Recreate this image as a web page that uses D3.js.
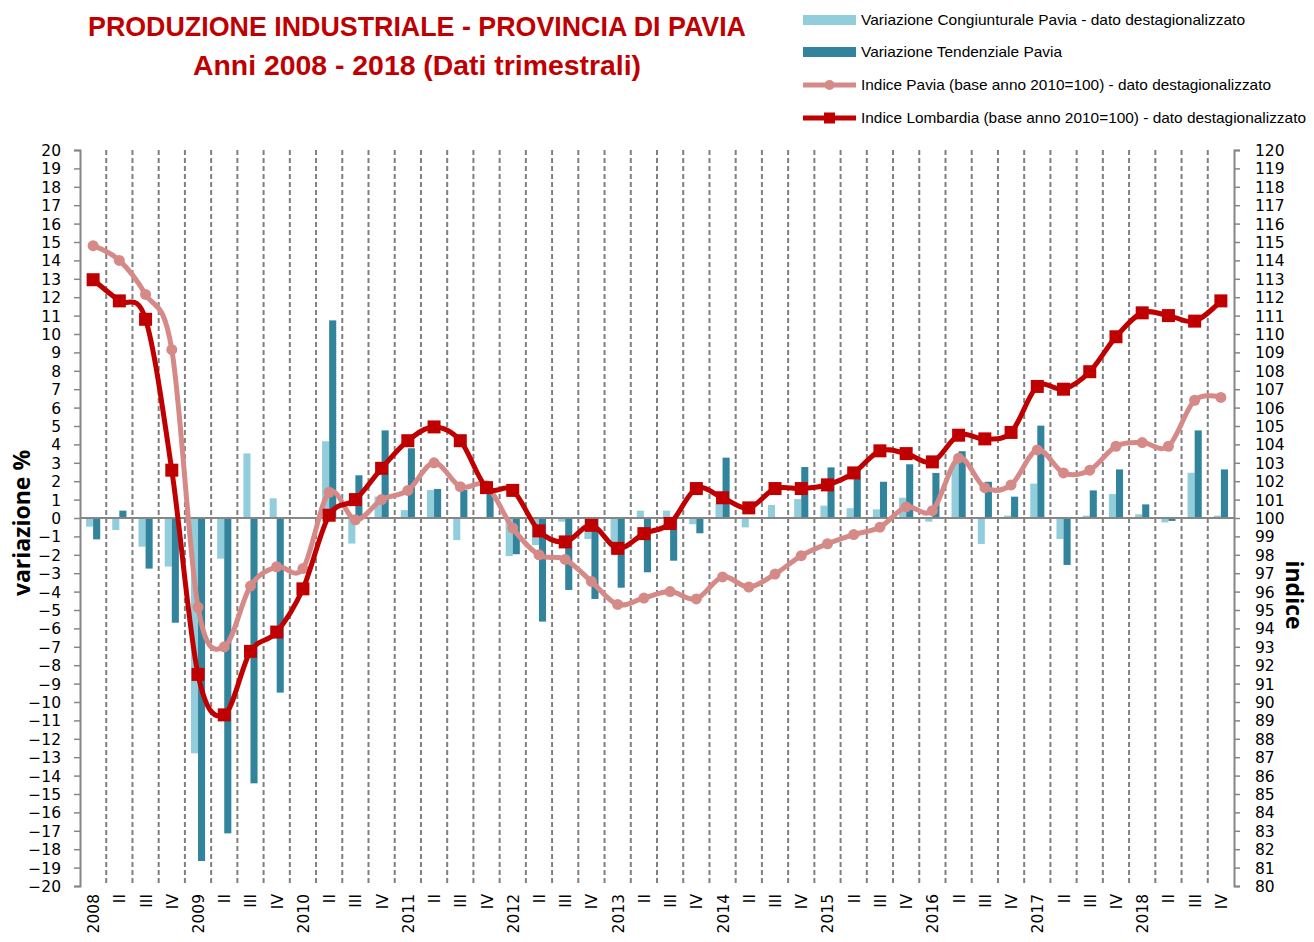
<!DOCTYPE html>
<html lang="it">
<head>
<meta charset="UTF-8">
<title>Produzione industriale - Provincia di Pavia</title>
<script src="https://cdn.jsdelivr.net/npm/d3@7"></script>
<style>
    body { margin: 0; background: #fff; }
    .tick text { font-family: "DejaVu Sans", sans-serif; font-size: 15.5px; fill: #000; }
    .title { font-family: "Liberation Sans Narrow", "Liberation Sans", sans-serif; font-weight: bold; fill: #c00000; font-size: 28px; }
    .legend text { font-family: "Liberation Sans Narrow", "Liberation Sans", sans-serif; font-size: 15px; fill: #000; }
    .axis-title { font-family: "Open Sans", sans-serif; font-weight: bold; font-size: 23px; fill: #000; }
</style>
</head>
<body>
<svg width="1314" height="942"></svg>
<script>
// quarters 2008 - 2018
const years = d3.range(2008, 2019);
const quarterLabels = years.flatMap(y => [String(y), "II", "III", "IV"]);

// variazione % (left axis)
const congiunturale = [-0.47, -0.65, -1.56, -2.64, -12.79, -2.21, 3.51, 1.07, 0, 4.17, -1.39, 1.16,
    0.43, 1.52, -1.2, -0.05, -2.07, -1.47, -0.2, -1.14, -1.92, 0.4, 0.4, -0.34,
    0.8, -0.51, 0.71, 1.03, 0.67, 0.53, 0.47, 1.1, -0.2, 3.0, -1.41, 0.13,
    1.87, -1.14, 0.13, 1.3, 0.2, -0.24, 2.46, 0.13];
const tendenziale = [-1.16, 0.4, -2.75, -5.69, -18.64, -17.14, -14.42, -9.49, -0.05, 10.74, 2.32, 4.76,
    3.79, 1.58, 1.52, 1.6, -1.97, -5.63, -3.91, -4.4, -3.79, -2.95, -2.32, -0.83,
    3.28, 0, 0, 2.77, 2.75, 2.7, 1.97, 2.92, 2.45, 3.63, 1.97, 1.16,
    5.02, -2.55, 1.5, 2.64, 0.74, -0.16, 4.76, 2.64];

// indici (right axis)
const indicePavia = [114.8, 114.0, 112.15, 109.15, 95.15, 93.0, 96.3, 97.35, 97.25, 101.4, 99.9, 101.0,
    101.5, 103.0, 101.7, 101.75, 99.45, 98.0, 97.75, 96.55, 95.3, 95.65, 96.0, 95.6,
    96.8, 96.25, 96.95, 97.95, 98.6, 99.1, 99.5, 100.6, 100.4, 103.25, 101.65, 101.8,
    103.7, 102.45, 102.6, 103.9, 104.1, 103.9, 106.4, 106.55];
const indiceLombardia = [112.95, 111.8, 110.8, 102.6, 91.5, 89.3, 92.75, 93.8, 96.15, 100.15, 101.0, 102.7,
    104.2, 104.95, 104.2, 101.65, 101.5, 99.3, 98.7, 99.6, 98.35, 99.15, 99.7, 101.6,
    101.1, 100.55, 101.6, 101.6, 101.8, 102.45, 103.65, 103.5, 103.05, 104.5, 104.3, 104.65,
    107.15, 107.0, 107.95, 109.85, 111.15, 111.0, 110.7, 111.8];

const legendLabels = [
    "Variazione Congiunturale Pavia - dato destagionalizzato",
    "Variazione Tendenziale Pavia",
    "Indice Pavia (base anno 2010=100) - dato destagionalizzato",
    "Indice Lombardia (base anno 2010=100) - dato destagionalizzato"
];

const C_CONG = "#92cddc", C_TEND = "#31849b", C_PAV = "#d58a88", C_LOM = "#c00000", C_AX = "#868686";

const svg = d3.select("svg");
const mLeft = 80, mRight = 1234, mTop = 150, mBottom = 886;

const idx = d3.range(quarterLabels.length);
const x = d3.scaleBand().domain(idx).range([mLeft, mRight]);
const xSub = d3.scaleBand().domain(["c", "t"]).range([x.bandwidth() * 0.23, x.bandwidth() * 0.77]);
const yL = d3.scaleLinear().domain([-20, 20]).range([mBottom, mTop]);
const yR = d3.scaleLinear().domain([80, 120]).range([mBottom, mTop]);

// dashed gridlines at category boundaries
svg.append("g").selectAll("line")
    .data(idx.slice(1))
    .join("line")
    .attr("x1", d => x(d)).attr("x2", d => x(d))
    .attr("y1", mTop).attr("y2", mBottom)
    .attr("stroke", "#808080").attr("stroke-width", 2)
    .attr("stroke-dasharray", "5,3");

// bars
const bars = svg.append("g");
bars.selectAll(".cong").data(idx).join("rect")
    .attr("class", "cong")
    .attr("x", i => x(i) + xSub("c"))
    .attr("width", xSub.bandwidth())
    .attr("y", i => yL(Math.max(0, congiunturale[i])))
    .attr("height", i => Math.abs(yL(congiunturale[i]) - yL(0)))
    .attr("fill", C_CONG);
bars.selectAll(".tend").data(idx).join("rect")
    .attr("class", "tend")
    .attr("x", i => x(i) + xSub("t"))
    .attr("width", xSub.bandwidth())
    .attr("y", i => yL(Math.max(0, tendenziale[i])))
    .attr("height", i => Math.abs(yL(tendenziale[i]) - yL(0)))
    .attr("fill", C_TEND);

// zero line
svg.append("line")
    .attr("x1", mLeft).attr("x2", mRight)
    .attr("y1", yL(0)).attr("y2", yL(0))
    .attr("stroke", C_AX).attr("stroke-width", 2);

// axes
const axL = svg.append("g").attr("transform", `translate(${mLeft},0)`)
    .call(d3.axisLeft(yL).tickValues(d3.range(-20, 21)).tickSize(6).tickPadding(13).tickFormat(d3.format("d")));
const axR = svg.append("g").attr("transform", `translate(${mRight},0)`)
    .call(d3.axisRight(yR).tickValues(d3.range(80, 121)).tickSize(6).tickPadding(15).tickFormat(d3.format("d")));
[axL, axR].forEach(a => {
    a.select(".domain").attr("stroke", C_AX).attr("stroke-width", 2);
    a.selectAll(".tick line").attr("stroke", C_AX).attr("stroke-width", 1.5);
    a.selectAll(".tick text").attr("dy", "0.36em");
});

// category labels (rotated)
svg.append("g").selectAll("text")
    .data(idx)
    .join("text")
    .attr("transform", i => `translate(${x(i) + x.bandwidth() / 2 + 6},894) rotate(-90)`)
    .attr("text-anchor", "end")
    .style("font-family", "'DejaVu Sans', sans-serif")
    .style("font-size", "15.5px")
    .text(i => quarterLabels[i]);

// lines
const line = vals => d3.line()
    .x(i => x(i) + x.bandwidth() / 2)
    .y(i => yR(vals[i]))
    .curve(d3.curveCatmullRom.alpha(0))(idx);

svg.append("path").attr("d", line(indicePavia))
    .attr("fill", "none").attr("stroke", C_PAV).attr("stroke-width", 5).attr("stroke-linejoin", "round");
svg.append("g").selectAll("circle").data(idx).join("circle")
    .attr("cx", i => x(i) + x.bandwidth() / 2)
    .attr("cy", i => yR(indicePavia[i]))
    .attr("r", 5.5).attr("fill", C_PAV);

svg.append("path").attr("d", line(indiceLombardia))
    .attr("fill", "none").attr("stroke", C_LOM).attr("stroke-width", 5).attr("stroke-linejoin", "round");
svg.append("g").selectAll("rect").data(idx).join("rect")
    .attr("x", i => x(i) + x.bandwidth() / 2 - 6.5)
    .attr("y", i => yR(indiceLombardia[i]) - 6.5)
    .attr("width", 13).attr("height", 13).attr("fill", C_LOM);

// axis titles
svg.append("text").attr("class", "axis-title")
    .attr("transform", "translate(30,523) rotate(-90)")
    .attr("text-anchor", "middle")
    .text("variazione %");
svg.append("text").attr("class", "axis-title")
    .attr("transform", "translate(1286,595) rotate(90)")
    .attr("text-anchor", "middle")
    .text("indice");

// title
svg.append("text").attr("class", "title")
    .attr("x", 88).attr("y", 36)
    .attr("textLength", 658).attr("lengthAdjust", "spacingAndGlyphs")
    .text("PRODUZIONE INDUSTRIALE - PROVINCIA DI PAVIA");
svg.append("text").attr("class", "title")
    .attr("x", 193).attr("y", 75)
    .attr("textLength", 448).attr("lengthAdjust", "spacingAndGlyphs")
    .text("Anni 2008 - 2018 (Dati trimestrali)");

// legend
const legY = [20, 52, 85, 118];
const legLen = [384, 201, 410, 445];
const lg = svg.append("g").attr("class", "legend");
lg.append("rect").attr("x", 803).attr("y", legY[0] - 5).attr("width", 53).attr("height", 10).attr("fill", C_CONG);
lg.append("rect").attr("x", 803).attr("y", legY[1] - 5).attr("width", 53).attr("height", 10).attr("fill", C_TEND);
lg.append("line").attr("x1", 803).attr("x2", 856).attr("y1", legY[2]).attr("y2", legY[2])
    .attr("stroke", C_PAV).attr("stroke-width", 5);
lg.append("circle").attr("cx", 829.5).attr("cy", legY[2]).attr("r", 5).attr("fill", C_PAV);
lg.append("line").attr("x1", 803).attr("x2", 856).attr("y1", legY[3]).attr("y2", legY[3])
    .attr("stroke", C_LOM).attr("stroke-width", 5);
lg.append("rect").attr("x", 824).attr("y", legY[3] - 5.5).attr("width", 11).attr("height", 11).attr("fill", C_LOM);
lg.selectAll("text").data(legendLabels).join("text")
    .attr("x", 861).attr("y", (d, i) => legY[i] + 5)
    .attr("textLength", (d, i) => legLen[i]).attr("lengthAdjust", "spacingAndGlyphs")
    .text(d => d);
</script>
</body>
</html>
